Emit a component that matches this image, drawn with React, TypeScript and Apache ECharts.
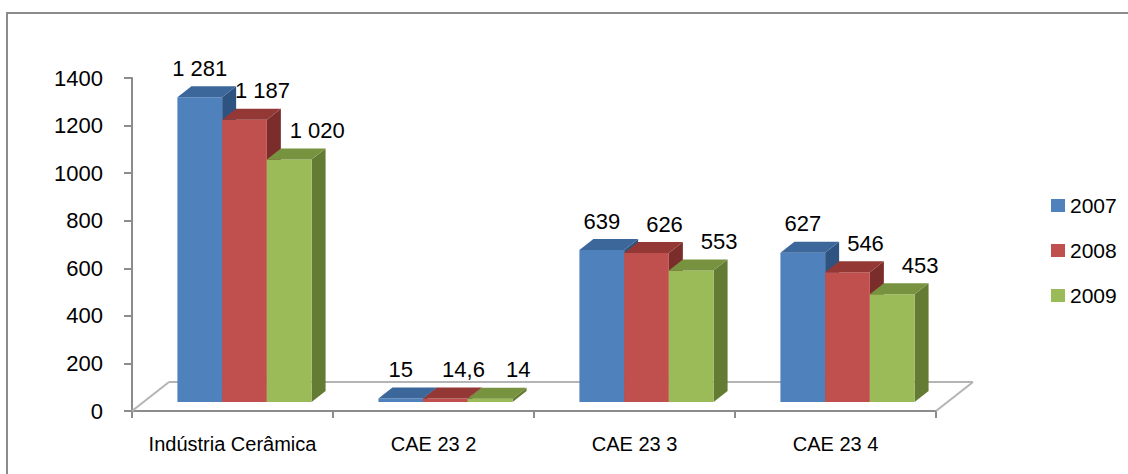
import React, { useEffect, useRef } from "react";
import * as echarts from "echarts";

// Categories and yearly values
const categories = ["Indústria Cerâmica", "CAE 23 2", "CAE 23 3", "CAE 23 4"];
const years = ["2007", "2008", "2009"];
const values2007 = [1281, 15, 639, 627];
const values2008 = [1187, 14.6, 626, 546];
const values2009 = [1020, 14, 553, 453];
const yTicks = { min: 0, max: 1400, interval: 200 };

const seriesValues = [values2007, values2008, values2009];

// Face colours per year: front, top, side
const faceColors = [
  { front: "#4F81BD", top: "#3C679B", side: "#2F5380" },
  { front: "#C0504D", top: "#943836", side: "#7A2D2B" },
  { front: "#9BBB59", top: "#77933F", side: "#637B33" },
];

const FONT = '"Liberation Sans", Arial, sans-serif';
const AXIS_GREY = "#8C8C8C";
const FLOOR_GREY = "#B4B4B4";

// 3D projection: the floor's full depth, the offset of the bar plane and each bar's depth
const FLOOR_DEPTH = [37, -29];
const BAR_PLANE = [12, -9];
const BAR_DEPTH = [14, -11];
const BAR_FRACTION = 0.2225;
const LABEL_SHIFT = [0, 18, 28];

function formatPt(v: number): string {
  const [i, d] = String(v).split(".");
  const intPart = i.replace(/\B(?=(\d{3})+(?!\d))/g, " ");
  return d ? intPart + "," + d : intPart;
}

function makeBarRenderer(s: number) {
  return (params: any, api: any) => {
    const cat = api.value(0);
    const v = api.value(1);
    const base = api.coord([cat, 0]);
    const top = api.coord([cat, v]);
    const catW = api.size([1, 0])[0];
    const barW = catW * BAR_FRACTION;
    const x0 = base[0] - 1.5 * barW + s * barW + BAR_PLANE[0];
    const x1 = x0 + barW;
    const yb = base[1] + BAR_PLANE[1];
    const yt = top[1] + BAR_PLANE[1];
    const [dx, dy] = BAR_DEPTH;
    const c = faceColors[s];
    return {
      type: "group",
      children: [
        {
          type: "polygon",
          shape: { points: [[x1, yt], [x1 + dx, yt + dy], [x1 + dx, yb + dy], [x1, yb]] },
          style: { fill: c.side },
        },
        {
          type: "rect",
          shape: { x: x0, y: yt, width: barW, height: yb - yt },
          style: { fill: c.front },
        },
        {
          type: "polygon",
          shape: { points: [[x0, yt], [x1, yt], [x1 + dx, yt + dy], [x0 + dx, yt + dy]] },
          style: { fill: c.top },
        },
        {
          type: "text",
          style: {
            text: formatPt(v),
            x: (x0 + x1) / 2 + LABEL_SHIFT[s],
            y: yt - 29,
            textAlign: "center",
            textVerticalAlign: "middle",
            align: "center",
            verticalAlign: "middle",
            fontSize: 22,
            fontFamily: FONT,
            fill: "#000",
          },
        },
      ],
    };
  };
}

function renderFloor(params: any, api: any) {
  const catW = api.size([1, 0])[0];
  const first = api.coord([0, 0]);
  const last = api.coord([categories.length - 1, 0]);
  const xl = first[0] - catW / 2;
  const xr = last[0] + catW / 2;
  const y = first[1];
  const [dx, dy] = FLOOR_DEPTH;
  const style = { stroke: FLOOR_GREY, lineWidth: 2, fill: "none" };
  return {
    type: "group",
    children: [
      { type: "line", shape: { x1: xl, y1: y, x2: xl + dx, y2: y + dy }, style },
      { type: "line", shape: { x1: xl + dx, y1: y + dy, x2: xr + dx, y2: y + dy }, style },
      { type: "line", shape: { x1: xr, y1: y, x2: xr + dx, y2: y + dy }, style },
    ],
  };
}

export default function App() {
  const ref = useRef<HTMLDivElement>(null);

  useEffect(() => {
    if (!ref.current) return;
    const chart = echarts.init(ref.current, null, { renderer: "svg" });

    const barSeries = years.map((year, s) => ({
      type: "custom",
      name: year,
      clip: false,
      itemStyle: { color: faceColors[s].front },
      encode: { x: 0, y: 1 },
      data: categories.map((_, i) => [i, seriesValues[s][i]]),
      renderItem: makeBarRenderer(s),
    }));

    chart.setOption({
      animation: false,
      backgroundColor: "#fff",
      color: faceColors.map((c) => c.front),
      textStyle: { fontFamily: FONT },
      grid: { left: 132, top: 78, width: 804, height: 333, containLabel: false },
      xAxis: {
        type: "category",
        data: categories,
        boundaryGap: true,
        axisLine: { show: true, lineStyle: { color: AXIS_GREY, width: 2 } },
        axisTick: { show: true, length: 7, lineStyle: { color: AXIS_GREY, width: 2 } },
        axisLabel: { interval: 0, fontSize: 20, color: "#000", margin: 23, fontFamily: FONT },
        splitLine: { show: false },
      },
      yAxis: {
        type: "value",
        min: yTicks.min,
        max: yTicks.max,
        interval: yTicks.interval,
        axisLine: { show: true, lineStyle: { color: AXIS_GREY, width: 2 } },
        axisTick: { show: true, length: 8, lineStyle: { color: AXIS_GREY, width: 2 } },
        axisLabel: {
          fontSize: 22,
          color: "#000",
          margin: 29,
          fontFamily: FONT,
          formatter: (v: number) => String(v),
        },
        splitLine: { show: false },
      },
      legend: {
        data: years,
        orient: "vertical",
        left: 1046,
        top: 190,
        icon: "rect",
        itemWidth: 14,
        itemHeight: 13,
        itemGap: 24,
        textStyle: { fontSize: 21, color: "#000", fontFamily: FONT },
      },
      graphic: [
        {
          type: "rect",
          shape: { x: 7, y: 13, width: 1200, height: 600 },
          style: { fill: "none", stroke: AXIS_GREY, lineWidth: 2 },
          silent: true,
        },
      ],
      series: [
        {
          type: "custom",
          name: "floor",
          clip: false,
          data: [[0, 0]],
          encode: { x: 0, y: 1 },
          renderItem: renderFloor,
        },
        ...barSeries,
      ],
    });

    return () => chart.dispose();
  }, []);

  return (
    <div
      ref={ref}
      style={{ position: "absolute", left: 0, top: 0, width: 1128, height: 474 }}
    />
  );
}
